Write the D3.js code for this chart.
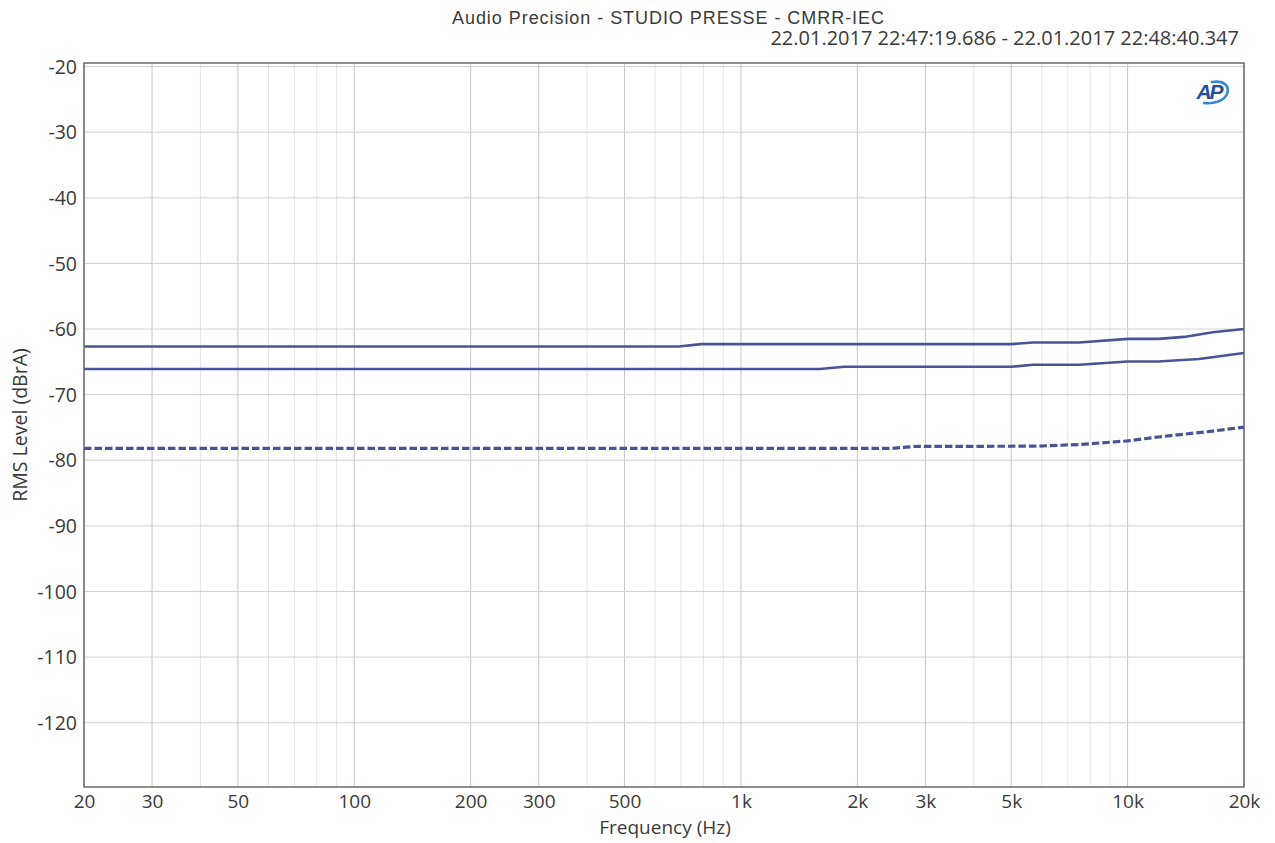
<!DOCTYPE html>
<html>
<head>
<meta charset="utf-8">
<script src="https://cdn.jsdelivr.net/npm/d3@7/dist/d3.min.js"></script>
<style>
  html, body { margin: 0; padding: 0; background: #fff; }
  svg { display: block; }
  text { fill: #3a3a3a; }
</style>
</head>
<body>
<svg id="chart" width="1275" height="843"></svg>
<script>
// ---- data ----
const titleText = "Audio Precision - STUDIO PRESSE - CMRR-IEC";
const timeText = "22.01.2017 22:47:19.686 - 22.01.2017 22:48:40.347";
const xLabel = "Frequency (Hz)";
const yLabel = "RMS Level (dBrA)";

const yTicks = [-20, -30, -40, -50, -60, -70, -80, -90, -100, -110, -120];
const xMajorTicks = [20, 30, 50, 100, 200, 300, 500, 1000, 2000, 3000, 5000, 10000, 20000];
const xTickLabels = ["20", "30", "50", "100", "200", "300", "500", "1k", "2k", "3k", "5k", "10k", "20k"];
const xMinorTicks = [40, 60, 70, 80, 90, 400, 600, 700, 800, 900,
                     4000, 6000, 7000, 8000, 9000];

// channel 1 (upper solid)
const ch1Freq = [20, 690, 790, 5000, 5700, 7500, 10000, 12000, 14000, 16600, 20000];
const ch1Level = [-62.65, -62.65, -62.3, -62.3, -62.05, -62.05, -61.5, -61.5, -61.2, -60.5, -60.0];
// channel 2 (lower solid)
const ch2Freq = [20, 1600, 1850, 5000, 5700, 7500, 10000, 12000, 15300, 20000];
const ch2Level = [-66.1, -66.1, -65.75, -65.75, -65.45, -65.45, -64.95, -64.95, -64.57, -63.65];
// channel 3 (dashed)
const ch3Freq = [20, 2450, 2800, 5800, 7500, 10000, 12000, 16600, 20000];
const ch3Level = [-78.2, -78.2, -77.9, -77.85, -77.6, -77.05, -76.45, -75.55, -74.95];

// ---- layout ----
const svg = d3.select("#chart");
const plot = { left: 84, right: 1244, top: 63, bottom: 787 };

const x = d3.scaleLog().domain([20, 20000]).range([plot.left, plot.right]);
const y = d3.scaleLinear().domain([-129.8, -19.45]).range([plot.bottom, plot.top]);

const grid = svg.append("g");

// minor vertical grid
grid.selectAll("line.minor").data(xMinorTicks).enter().append("line")
  .attr("x1", d => x(d)).attr("x2", d => x(d))
  .attr("y1", plot.top).attr("y2", plot.bottom)
  .attr("stroke", "#e6e6e6").attr("stroke-width", 1);

// major vertical grid
grid.selectAll("line.major").data(xMajorTicks).enter().append("line")
  .attr("x1", d => x(d)).attr("x2", d => x(d))
  .attr("y1", plot.top).attr("y2", plot.bottom)
  .attr("stroke", "#c6c6c6").attr("stroke-width", 1);

// horizontal grid
grid.selectAll("line.h").data(yTicks).enter().append("line")
  .attr("x1", plot.left).attr("x2", plot.right)
  .attr("y1", d => y(d)).attr("y2", d => y(d))
  .attr("stroke", "#d2d2d2").attr("stroke-width", 1);

// traces
const line = d3.line().x(d => x(d[0])).y(d => y(d[1]));
const traceColor = "#485495";
function trace(freqs, levels, dashed) {
  const pts = freqs.map((f, i) => [f, levels[i]]);
  svg.append("path").datum(pts)
    .attr("d", line)
    .attr("fill", "none")
    .attr("stroke", traceColor)
    .attr("stroke-width", dashed ? 3.2 : 2.6)
    .attr("stroke-dasharray", dashed ? "7.5,3" : null)
    .attr("stroke-linejoin", "round");
}
trace(ch1Freq, ch1Level, false);
trace(ch2Freq, ch2Level, false);
trace(ch3Freq, ch3Level, true);

// plot frame
svg.append("rect")
  .attr("x", plot.left).attr("y", plot.top)
  .attr("width", plot.right - plot.left).attr("height", plot.bottom - plot.top)
  .attr("fill", "none").attr("stroke", "#6a6a6a").attr("stroke-width", 1.5);

// axes (plain hyphen for negative numbers)
const tickFont = "'Open Sans', 'Noto Sans', sans-serif";
const yAxis = d3.axisLeft(y).tickValues(yTicks).tickSize(0).tickPadding(7)
  .tickFormat(d => String(d));
const gy = svg.append("g").attr("transform", `translate(${plot.left},0)`).call(yAxis);
gy.select(".domain").remove();
gy.selectAll("text").attr("font-family", tickFont).attr("font-size", 19.5).attr("fill", "#3a3a3a")
  .attr("dy", "0.34em");

const xAxis = d3.axisBottom(x).tickValues(xMajorTicks).tickSize(0).tickPadding(8)
  .tickFormat((d, i) => xTickLabels[i]);
const gx = svg.append("g").attr("transform", `translate(0,${plot.bottom})`).call(xAxis);
gx.select(".domain").remove();
gx.selectAll("text").attr("font-family", tickFont).attr("font-size", 19).attr("fill", "#3a3a3a");

// axis titles
svg.append("text")
  .attr("x", (plot.left + plot.right) / 2 + 1).attr("y", 834)
  .attr("text-anchor", "middle")
  .attr("font-family", tickFont).attr("font-size", 19)
  .text(xLabel);

svg.append("text")
  .attr("transform", `translate(27,425) rotate(-90)`)
  .attr("text-anchor", "middle")
  .attr("font-family", tickFont).attr("font-size", 19.5)
  .text(yLabel);

// header
svg.append("text")
  .attr("x", 668).attr("y", 24)
  .attr("text-anchor", "middle")
  .attr("font-family", "'Liberation Sans', Arial, sans-serif").attr("font-size", 18)
  .attr("textLength", 432).attr("lengthAdjust", "spacing")
  .text(titleText);

svg.append("text")
  .attr("x", 1239).attr("y", 45)
  .attr("text-anchor", "end")
  .attr("font-family", tickFont).attr("font-size", 20)
  .text(timeText);

// AP logo
const logo = svg.append("g").attr("transform", "translate(1210,92)");
logo.append("path")
  .attr("d", "M 2 -10 C 14 -12 20 -6 17 2 C 14 9 4 12 -6 11")
  .attr("fill", "none").attr("stroke", "#3a86d6").attr("stroke-width", 2.6)
  .attr("stroke-linecap", "round");
logo.append("text")
  .attr("x", -1).attr("y", 7)
  .attr("text-anchor", "middle")
  .attr("font-family", "'Liberation Sans', Arial, sans-serif")
  .attr("font-size", 21).attr("font-weight", "bold").attr("font-style", "italic")
  .attr("letter-spacing", -2)
  .style("fill", "#1f4f9e")
  .text("AP");
</script>
</body>
</html>
